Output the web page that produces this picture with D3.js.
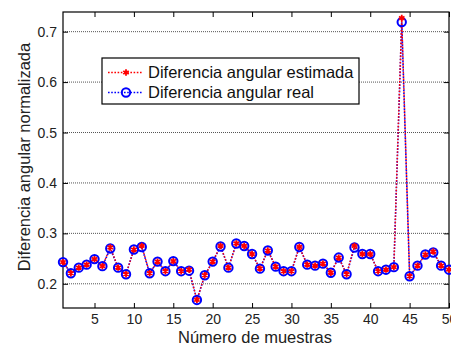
<!DOCTYPE html>
<html>
<head>
<meta charset="utf-8">
<script src="https://cdn.jsdelivr.net/npm/d3@7"></script>
<style>
  body { margin: 0; background: #fff; }
  svg { display: block; font-family: "Liberation Sans", Arial, sans-serif; }
</style>
</head>
<body>
<div id="chart"></div>
<script>
// sample index 1..50
const samples = d3.range(1, 51);

// blue: Diferencia angular real
const realValues = [
  0.243, 0.221, 0.232, 0.238, 0.249, 0.235, 0.270, 0.232, 0.219, 0.268,
  0.273, 0.221, 0.244, 0.225, 0.245, 0.225, 0.226, 0.168, 0.217, 0.244,
  0.274, 0.232, 0.280, 0.275, 0.259, 0.230, 0.266, 0.234, 0.225, 0.225,
  0.273, 0.238, 0.236, 0.240, 0.222, 0.252, 0.219, 0.272, 0.259, 0.259,
  0.225, 0.228, 0.233, 0.719, 0.215, 0.236, 0.258, 0.262, 0.236, 0.228
];

// red: Diferencia angular estimada
const estValues = [
  0.243, 0.221, 0.232, 0.238, 0.249, 0.235, 0.272, 0.232, 0.219, 0.268,
  0.275, 0.221, 0.244, 0.225, 0.245, 0.225, 0.228, 0.168, 0.217, 0.244,
  0.275, 0.232, 0.280, 0.275, 0.259, 0.230, 0.266, 0.234, 0.225, 0.225,
  0.273, 0.238, 0.236, 0.240, 0.222, 0.252, 0.219, 0.275, 0.259, 0.259,
  0.225, 0.228, 0.233, 0.727, 0.215, 0.236, 0.258, 0.264, 0.236, 0.228
];

const xTicks = [5, 10, 15, 20, 25, 30, 35, 40, 45, 50];
const yTicks = [0.2, 0.3, 0.4, 0.5, 0.6, 0.7];
const legendLabels = ['Diferencia angular estimada', 'Diferencia angular real'];

const W = 451, H = 346;
const margin = { top: 12, right: 2, bottom: 38, left: 63 };
const width = W - margin.left - margin.right;
const height = H - margin.top - margin.bottom;

const svg = d3.select('#chart')
  .append('svg')
  .attr('width', W)
  .attr('height', H);

const g = svg.append('g')
  .attr('transform', `translate(${margin.left}, ${margin.top})`);

const x = d3.scaleLinear()
  .domain([1, 50])
  .range([0, width]);

const y = d3.scaleLinear()
  .domain([0.152, 0.739])
  .range([height, 0]);

// horizontal grid
g.append('g')
  .selectAll('line')
  .data(yTicks)
  .enter().append('line')
  .attr('x1', 0)
  .attr('x2', width)
  .attr('y1', d => y(d))
  .attr('y2', d => y(d))
  .attr('stroke', '#555')
  .attr('stroke-width', 1)
  .attr('stroke-dasharray', '1,1');

// axes, ticks inward
const xAxisCall = d3.axisBottom(x).tickValues(xTicks).tickSize(-5).tickPadding(6).tickFormat(d3.format('d'));
const xAxisTop = d3.axisTop(x).tickValues(xTicks).tickSize(-5).tickFormat('');
const yAxisCall = d3.axisLeft(y).tickValues(yTicks).tickSize(-5).tickPadding(6).tickFormat(d3.format('.1f'));
const yAxisRight = d3.axisRight(y).tickValues(yTicks).tickSize(-5).tickFormat('');

const styleAxis = sel => {
  sel.select('.domain').remove();
  sel.selectAll('line').attr('stroke', '#000');
  sel.selectAll('text')
    .attr('fill', '#222')
    .attr('font-size', '14px')
    .attr('font-family', '"Liberation Sans", Arial, sans-serif');
};

g.append('g').attr('transform', `translate(0, ${height})`).call(xAxisCall).call(styleAxis);
g.append('g').call(xAxisTop).call(styleAxis);
g.append('g').call(yAxisCall).call(styleAxis);
g.append('g').attr('transform', `translate(${width}, 0)`).call(yAxisRight).call(styleAxis);

// box
g.append('rect')
  .attr('width', width)
  .attr('height', height)
  .attr('fill', 'none')
  .attr('stroke', '#000')
  .attr('stroke-width', 1.2);

const line = d3.line()
  .x((d, i) => x(samples[i]))
  .y(d => y(d));

// real (blue) line + markers
g.append('path')
  .datum(realValues)
  .attr('d', line)
  .attr('fill', 'none')
  .attr('stroke', '#0000ff')
  .attr('stroke-width', 1.6)
  .attr('stroke-dasharray', '1.6,1.6');

g.append('path')
  .datum(estValues)
  .attr('d', line)
  .attr('fill', 'none')
  .attr('stroke', '#ff0000')
  .attr('stroke-width', 1.4)
  .attr('stroke-dasharray', '1.6,1.6')
  .attr('stroke-dashoffset', 1.6);

g.append('g')
  .selectAll('circle')
  .data(realValues)
  .enter().append('circle')
  .attr('cx', (d, i) => x(samples[i]))
  .attr('cy', d => y(d))
  .attr('r', 4.2)
  .attr('fill', 'none')
  .attr('stroke', '#0000ff')
  .attr('stroke-width', 2);

const star = d3.symbol().type(d3.symbolAsterisk).size(28);
g.append('g')
  .selectAll('path')
  .data(estValues)
  .enter().append('path')
  .attr('transform', (d, i) => `translate(${x(samples[i])}, ${y(d)})`)
  .attr('d', star)
  .attr('fill', 'none')
  .attr('stroke', '#ff0000')
  .attr('stroke-width', 1.8);

// axis labels
svg.append('text')
  .attr('x', 255)
  .attr('y', 343)
  .attr('text-anchor', 'middle')
  .attr('font-size', '16.5px')
  .attr('fill', '#222')
  .text('Número de muestras');

svg.append('text')
  .attr('transform', 'rotate(-90)')
  .attr('x', -157)
  .attr('y', 30)
  .attr('text-anchor', 'middle')
  .attr('font-size', '16.5px')
  .attr('fill', '#222')
  .text('Diferencia angular normalizada');

// legend
const legend = svg.append('g').attr('transform', 'translate(102, 58)');
legend.append('rect')
  .attr('width', 257)
  .attr('height', 46)
  .attr('fill', '#fff')
  .attr('stroke', '#000')
  .attr('stroke-width', 1.2);

legendLabels.forEach((label, i) => {
  const row = legend.append('g').attr('transform', `translate(0, ${14.5 + i * 20})`);
  row.append('line')
    .attr('x1', 6).attr('x2', 41)
    .attr('stroke', i === 0 ? '#ff0000' : '#0000ff')
    .attr('stroke-width', 1.5)
    .attr('stroke-dasharray', '1.6,1.6');
  if (i === 0) {
    row.append('path')
      .attr('transform', 'translate(24, 0)')
      .attr('d', star)
      .attr('fill', 'none')
      .attr('stroke', '#ff0000')
      .attr('stroke-width', 1.8);
  } else {
    row.append('circle')
      .attr('cx', 24).attr('r', 4.2)
      .attr('fill', 'none')
      .attr('stroke', '#0000ff')
      .attr('stroke-width', 2);
  }
  row.append('text')
    .attr('x', 46)
    .attr('y', 5.5)
    .attr('font-size', '16.5px')
    .attr('fill', '#111')
    .text(label);
});
</script>
</body>
</html>
